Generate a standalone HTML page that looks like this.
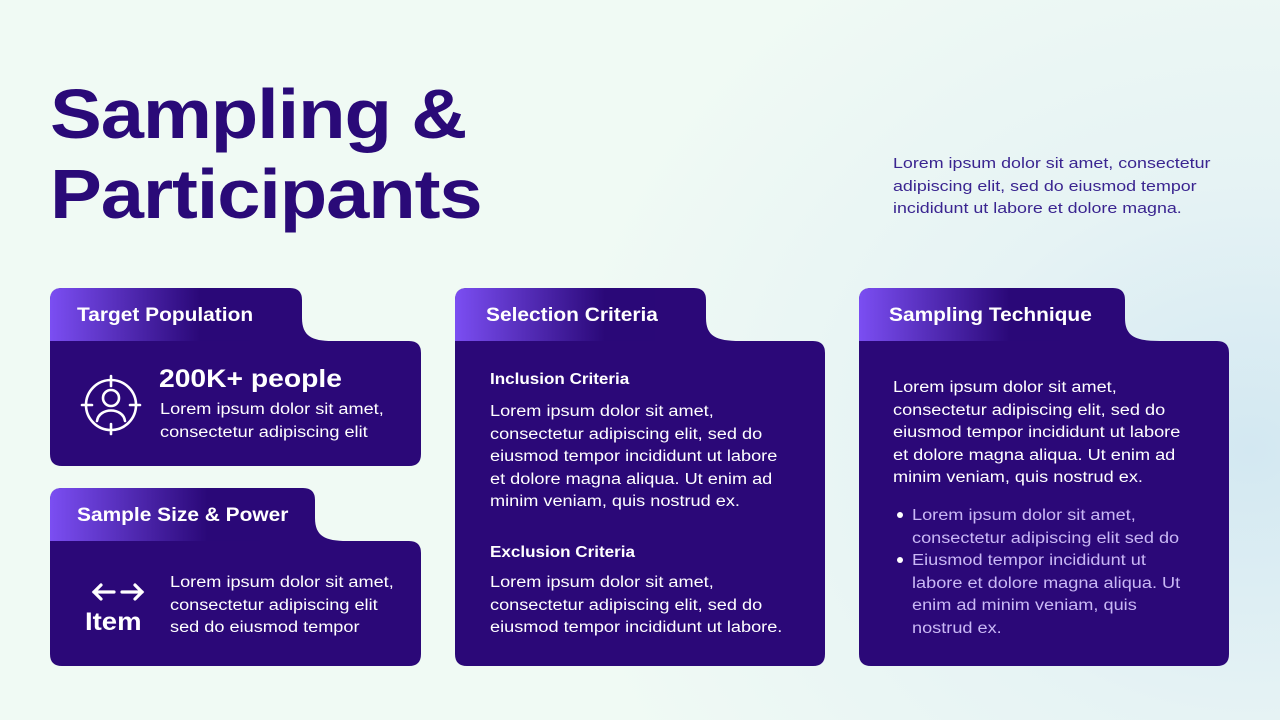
<!DOCTYPE html>
<html><head><meta charset="utf-8"><style>
*{margin:0;padding:0;box-sizing:border-box}
body{width:1280px;height:720px;overflow:hidden;position:relative;font-family:"Liberation Sans",sans-serif;background:radial-gradient(ellipse 700px 600px at 1250px 450px,#d3e8f2 0%,#e6f3f4 45%,rgba(240,250,245,0) 100%),#f0faf4}
svg{position:absolute;left:0;top:0}
.t{position:absolute;color:#fff;font-size:15.5px;line-height:22.5px;white-space:nowrap;transform:scaleX(1.17);transform-origin:0 0}
.h{position:absolute;color:#fff;font-weight:bold;font-size:19px;white-space:nowrap;transform:scaleX(1.1);transform-origin:0 0}
.b{font-weight:bold;transform:scaleX(1.1)}
</style></head><body>
<svg width="1280" height="720">
<defs>
<linearGradient id="tg" x1="0" x2="1" y1="0" y2="0"><stop offset="0" stop-color="#7b4ef2"/><stop offset="0.75" stop-color="#2a0878"/><stop offset="1" stop-color="#2a0878"/></linearGradient>
</defs>
<g fill="#2b0878">
<path d="M50,454 L50,300 Q50,288 62,288 L290,288 Q302,288 302,300 L302,318 C302,336 312,341 332,341 L409,341 Q421,341 421,353 L421,454 Q421,466 409,466 L62,466 Q50,466 50,454 Z"/>
<path d="M50,654 L50,500 Q50,488 62,488 L303,488 Q315,488 315,500 L315,518 C315,536 325,541 347,541 L409,541 Q421,541 421,553 L421,654 Q421,666 409,666 L62,666 Q50,666 50,654 Z"/>
<path d="M455,654 L455,300 Q455,288 467,288 L694,288 Q706,288 706,300 L706,318 C706,336 716,341 740,341 L813,341 Q825,341 825,353 L825,654 Q825,666 813,666 L467,666 Q455,666 455,654 Z"/>
<path d="M859,654 L859,300 Q859,288 871,288 L1113,288 Q1125,288 1125,300 L1125,318 C1125,336 1135,341 1160,341 L1217,341 Q1229,341 1229,353 L1229,654 Q1229,666 1217,666 L871,666 Q859,666 859,654 Z"/>
</g>
<path d="M50,341 L50,300 Q50,288 62,288 L250,288 L250,341 Z" fill="url(#tg)"/>
<path d="M50,541 L50,500 Q50,488 62,488 L260,488 L260,541 Z" fill="url(#tg)"/>
<path d="M455,341 L455,300 Q455,288 467,288 L655,288 L655,341 Z" fill="url(#tg)"/>
<path d="M859,341 L859,300 Q859,288 871,288 L1060,288 L1060,341 Z" fill="url(#tg)"/>
<g stroke="#fff" stroke-width="2.6" fill="none" stroke-linecap="round">
<circle cx="111" cy="405" r="25"/>
<line x1="111" y1="376" x2="111" y2="386"/><line x1="111" y1="424" x2="111" y2="434"/>
<line x1="82" y1="405" x2="92" y2="405"/><line x1="130" y1="405" x2="140" y2="405"/>
<circle cx="111" cy="398" r="8"/>
<path d="M97,421 C99,407 123,407 125,421"/>
<g stroke-width="3.2"><line x1="94" y1="592" x2="114" y2="592"/><path d="M101,585 L94,592 L101,599"/>
<line x1="122" y1="592" x2="142" y2="592"/><path d="M135,585 L142,592 L135,599"/></g>
</g>
</svg>
<div style="position:absolute;left:50px;top:74px;font-weight:bold;font-size:70px;line-height:80px;color:#2a0a78;letter-spacing:-1px;transform:scaleX(1.11);transform-origin:0 0">Sampling &amp;<br>Participants</div>
<div class="t" style="left:893px;top:153px;color:#3a2590;font-size:15px;line-height:22.5px;transform:scaleX(1.19)">Lorem ipsum dolor sit amet, consectetur<br>adipiscing elit, sed do eiusmod tempor<br>incididunt ut labore et dolore magna.</div>
<div class="h" style="left:77px;top:305px">Target Population</div>
<div class="h" style="left:77px;top:505px">Sample Size &amp; Power</div>
<div class="h" style="left:486px;top:305px">Selection Criteria</div>
<div class="h" style="left:889px;top:305px">Sampling Technique</div>
<div class="h" style="left:159px;top:365px;font-size:25px;transform:scaleX(1.13)">200K+ people</div>
<div class="t" style="left:160px;top:399px">Lorem ipsum dolor sit amet,<br>consectetur adipiscing elit</div>
<div class="h" style="left:85px;top:608px;font-size:25px">Item</div>
<div class="t" style="left:170px;top:572px">Lorem ipsum dolor sit amet,<br>consectetur adipiscing elit<br>sed do eiusmod tempor</div>
<div class="t b" style="left:490px;top:369px">Inclusion Criteria</div>
<div class="t" style="left:490px;top:401px">Lorem ipsum dolor sit amet,<br>consectetur adipiscing elit, sed do<br>eiusmod tempor incididunt ut labore<br>et dolore magna aliqua. Ut enim ad<br>minim veniam, quis nostrud ex.</div>
<div class="t b" style="left:490px;top:542px">Exclusion Criteria</div>
<div class="t" style="left:490px;top:572px">Lorem ipsum dolor sit amet,<br>consectetur adipiscing elit, sed do<br>eiusmod tempor incididunt ut labore.</div>
<div class="t" style="left:893px;top:377px">Lorem ipsum dolor sit amet,<br>consectetur adipiscing elit, sed do<br>eiusmod tempor incididunt ut labore<br>et dolore magna aliqua. Ut enim ad<br>minim veniam, quis nostrud ex.</div>
<div class="t" style="left:912px;top:505px;color:#c9b8f5">Lorem ipsum dolor sit amet,<br>consectetur adipiscing elit sed do<br>Eiusmod tempor incididunt ut<br>labore et dolore magna aliqua. Ut<br>enim ad minim veniam, quis<br>nostrud ex.</div>
<div style="position:absolute;left:897px;top:512px;width:6px;height:6px;border-radius:50%;background:#fff"></div>
<div style="position:absolute;left:897px;top:557px;width:6px;height:6px;border-radius:50%;background:#fff"></div>
</body></html>
